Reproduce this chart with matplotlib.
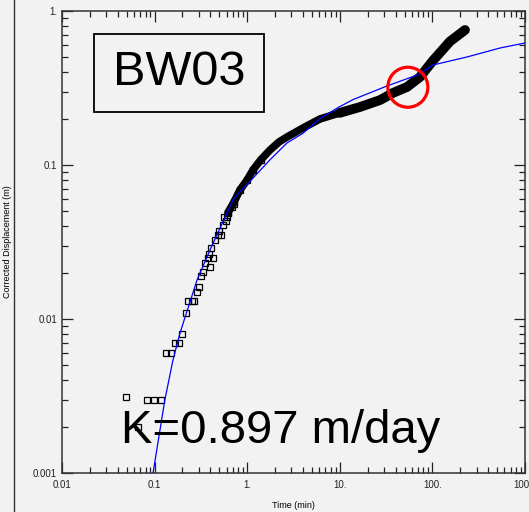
import matplotlib
matplotlib.use("Agg")
import matplotlib.pyplot as plt
from matplotlib.patches import Rectangle, Ellipse
from matplotlib.ticker import FixedLocator, LogLocator, NullFormatter, FixedFormatter

plt.rcParams['font.family'] = ['Liberation Sans', 'DejaVu Sans']

# early-time observations (scattered squares)
t_early = [0.049, 0.066, 0.082, 0.098, 0.117, 0.133, 0.150, 0.166, 0.184, 0.198,
           0.218, 0.229, 0.253, 0.266, 0.286, 0.30, 0.316, 0.33, 0.35, 0.377,
           0.386, 0.397, 0.41, 0.43, 0.45, 0.48, 0.49, 0.52, 0.55, 0.56,
           0.59, 0.60, 0.62, 0.68, 0.72]
d_early = [0.0031, 0.0020, 0.0030, 0.0030, 0.0030, 0.0060, 0.0060, 0.0070, 0.0070, 0.0080,
           0.0109, 0.0131, 0.0131, 0.0131, 0.0150, 0.0161, 0.0190, 0.0202, 0.0230, 0.0250,
           0.0264, 0.0219, 0.0290, 0.0250, 0.0326, 0.0350, 0.0370, 0.0350, 0.0408, 0.0460,
           0.0430, 0.0460, 0.0490, 0.0530, 0.0560]

# later observations (logged densely, they merge into a band)
t_late = [0.62, 0.72, 0.835, 1.0, 1.156, 1.4, 1.76, 2.2, 2.69, 4.01, 6.11, 10.0, 16.5,
          27.2, 37.6, 53.2, 73.5, 101.0, 155.0, 225.0]
d_late = [0.0490, 0.0575, 0.0689, 0.080, 0.0929, 0.108, 0.125, 0.141, 0.152, 0.174, 0.199,
          0.218, 0.238, 0.264, 0.294, 0.321, 0.373, 0.475, 0.635, 0.753]

# type curve fit
t_fit = [0.0962, 0.129, 0.158, 0.188, 0.287, 0.396, 0.703, 0.776, 1.156, 1.76, 2.69,
         4.01, 6.11, 9.57, 13.9, 32.4, 73.5, 101.0, 237.0, 537.0, 1000.0]
d_fit = [0.001, 0.00298, 0.00542, 0.0081, 0.0179, 0.028, 0.0593, 0.0638, 0.0823, 0.108,
         0.139, 0.161, 0.200, 0.236, 0.266, 0.326, 0.39, 0.446, 0.503, 0.575, 0.62]

x_ticks = [0.01, 0.1, 1, 10, 100, 1000]
x_labels = ['0.01', '0.1', '1.', '10.', '100.', '1000.']
y_ticks = [0.001, 0.01, 0.1, 1]
y_labels = ['0.001', '0.01', '0.1', '1.']

bg = '#f2f2f2'
fig = plt.figure(figsize=(5.29, 5.12), dpi=100, facecolor=bg)
ax = fig.add_axes([62/529, 1-473/512, 463/529, 462/512], facecolor=bg)

# the band gets heavier where the logger sampled more often
ax.plot(t_late[:12], d_late[:12], color='black', lw=5.5, solid_capstyle='round',
        solid_joinstyle='round', zorder=2)
ax.plot(t_late[11:], d_late[11:], color='black', lw=7, solid_capstyle='round',
        solid_joinstyle='round', zorder=2)
ax.plot(t_late[:6], d_late[:6], ls='none', marker='s', ms=4, mfc='none', mec='black',
        mew=0.9, zorder=2)
ax.plot(t_early, d_early, ls='none', marker='s', ms=3.8, mfc='none', mec='black', mew=0.9, zorder=2)
ax.plot(t_fit, d_fit, color='#0000ff', lw=0.9, zorder=3)

ax.set_xscale('log')
ax.set_yscale('log')
ax.set_xlim(0.01, 1000)
ax.set_ylim(0.001, 1)

ax.xaxis.set_major_locator(FixedLocator(x_ticks))
ax.xaxis.set_major_formatter(FixedFormatter(x_labels))
ax.yaxis.set_major_locator(FixedLocator(y_ticks))
ax.yaxis.set_major_formatter(FixedFormatter(y_labels))
ax.xaxis.set_minor_locator(LogLocator(base=10, subs=range(2, 10), numticks=20))
ax.yaxis.set_minor_locator(LogLocator(base=10, subs=range(2, 10), numticks=20))
ax.xaxis.set_minor_formatter(NullFormatter())
ax.yaxis.set_minor_formatter(NullFormatter())

ax.tick_params(which='both', direction='in', top=True, right=True, labelsize=7, colors='#222222')
ax.tick_params(which='major', length=8, width=0.9)
ax.tick_params(which='minor', length=4, width=0.9)
ax.tick_params(axis='x', pad=5)
for s in ax.spines.values():
    s.set_color('#333333')
    s.set_linewidth(1.1)

ax.set_xlabel('Time (min)', fontsize=6.5, labelpad=8)
ax.set_ylabel('Corrected Displacement (m)', fontsize=6.5)
ax.yaxis.set_label_coords(-50/463, 0.5)

# well name box
ax.add_patch(Rectangle((0.069, 0.781), 0.367, 0.169, transform=ax.transAxes,
                       fill=False, ec='black', lw=1.3, zorder=4))
ax.text(0.2527, 0.866, 'BW03', transform=ax.transAxes, fontsize=35,
        ha='center', va='center', zorder=5)

ax.text(0.127, 0.065, 'K=0.897 m/day', transform=ax.transAxes, fontsize=34,
        ha='left', va='baseline', zorder=5)

# deviation highlight
ax.add_patch(Ellipse((0.747, 0.835), 40/463, 40/462, transform=ax.transAxes,
                     fill=False, ec='#ff0000', lw=2.3, zorder=6))

# left frame line
fig.add_artist(plt.Line2D([14/529, 14/529], [0, 1], transform=fig.transFigure,
                          color='#333333', lw=1))

fig.savefig('out.png', dpi=100, facecolor=bg)
